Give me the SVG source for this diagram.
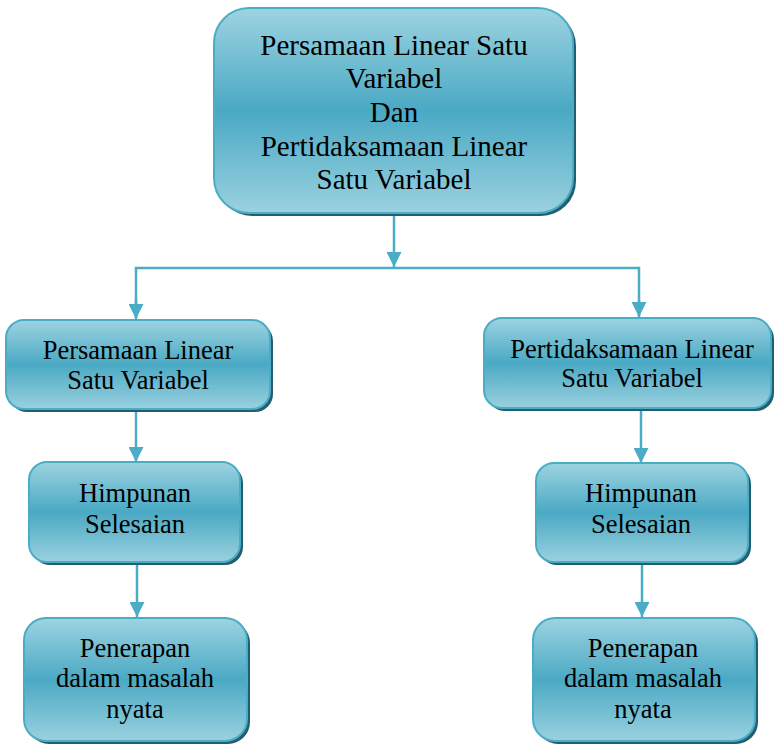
<svg xmlns="http://www.w3.org/2000/svg" width="776" height="745" viewBox="0 0 776 745">
<defs>
<linearGradient id="g" x1="0" y1="0" x2="0" y2="1">
<stop offset="0" stop-color="#9dd3e1"/>
<stop offset="0.5" stop-color="#4aa9c4"/>
<stop offset="1" stop-color="#9ad1df"/>
</linearGradient>
<marker id="arr" markerUnits="userSpaceOnUse" markerWidth="15" markerHeight="15" refX="15" refY="7.5" orient="auto">
<path d="M0,0 L15,7.5 L0,15 z" fill="#4bacc6"/>
</marker>
<style>
.shadow{fill:#215f70}
.box{fill:url(#g);stroke:#4bacc6;stroke-width:2}
.t{fill:#000;text-anchor:middle}
.big{font-size:29px}
.sm{font-size:26.5px}
.c{stroke:#4bacc6;stroke-width:2.5;fill:none}
</style>
</defs>
<rect width="776" height="745" fill="#fff"/>
<g id="connectors">
<line class="c" x1="394" y1="215" x2="394" y2="267" marker-end="url(#arr)"/>
<polyline class="c" points="136,318 136,268 639,268 639,316"/>
<line class="c" x1="136" y1="300" x2="136" y2="319" marker-end="url(#arr)"/>
<line class="c" x1="639" y1="300" x2="639" y2="317" marker-end="url(#arr)"/>
<line class="c" x1="136" y1="411" x2="136" y2="462" marker-end="url(#arr)"/>
<line class="c" x1="137" y1="564" x2="137" y2="617" marker-end="url(#arr)"/>
<line class="c" x1="641" y1="410" x2="641" y2="463" marker-end="url(#arr)"/>
<line class="c" x1="642" y1="564" x2="642" y2="617" marker-end="url(#arr)"/>
</g>
<g font-family="'Liberation Serif', 'Times New Roman', 'DejaVu Serif', serif">
<g id="top">
<rect class="shadow" x="217" y="11" width="359" height="205" rx="35"/>
<rect class="box" x="214" y="8" width="359" height="205" rx="35"/>
<text class="t big" x="394" y="55">Persamaan Linear Satu</text>
<text class="t big" x="394" y="88">Variabel</text>
<text class="t big" x="394" y="122">Dan</text>
<text class="t big" x="394" y="156">Pertidaksamaan Linear</text>
<text class="t big" x="394" y="189">Satu Variabel</text>
</g>
<g id="left1">
<rect class="shadow" x="9" y="323" width="264" height="89" rx="18"/>
<rect class="box" x="6" y="320" width="264" height="89" rx="18"/>
<text class="t sm" x="138" y="359">Persamaan Linear</text>
<text class="t sm" x="138" y="389">Satu Variabel</text>
</g>
<g id="right1">
<rect class="shadow" x="487" y="321" width="287" height="90" rx="18"/>
<rect class="box" x="484" y="318" width="287" height="90" rx="18"/>
<text class="t sm" x="632" y="358">Pertidaksamaan Linear</text>
<text class="t sm" x="632" y="387">Satu Variabel</text>
</g>
<g id="left2">
<rect class="shadow" x="32" y="465" width="211" height="100" rx="18"/>
<rect class="box" x="29" y="462" width="211" height="100" rx="18"/>
<text class="t sm" x="135" y="502">Himpunan</text>
<text class="t sm" x="135" y="533">Selesaian</text>
</g>
<g id="right2">
<rect class="shadow" x="539" y="466" width="212" height="99" rx="18"/>
<rect class="box" x="536" y="463" width="212" height="99" rx="18"/>
<text class="t sm" x="641" y="502">Himpunan</text>
<text class="t sm" x="641" y="533">Selesaian</text>
</g>
<g id="left3">
<rect class="shadow" x="27" y="621" width="223" height="123" rx="22"/>
<rect class="box" x="24" y="618" width="223" height="123" rx="22"/>
<text class="t sm" x="135" y="657">Penerapan</text>
<text class="t sm" x="135" y="687">dalam masalah</text>
<text class="t sm" x="135" y="718">nyata</text>
</g>
<g id="right3">
<rect class="shadow" x="536" y="621" width="222" height="123" rx="22"/>
<rect class="box" x="533" y="618" width="222" height="123" rx="22"/>
<text class="t sm" x="643" y="657">Penerapan</text>
<text class="t sm" x="643" y="687">dalam masalah</text>
<text class="t sm" x="643" y="718">nyata</text>
</g>
</g>
</svg>
